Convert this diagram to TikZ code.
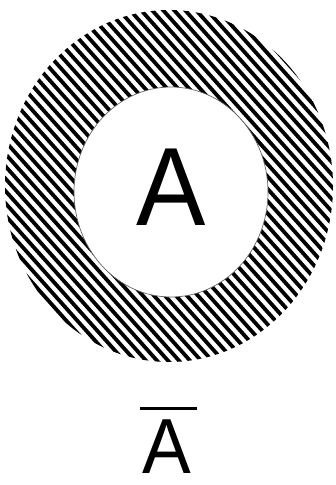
\documentclass[tikz,border=0pt]{standalone}
\usepackage{fontspec}
\setmainfont{Liberation Sans}
\begin{document}
\begin{tikzpicture}[x=1pt,y=-1pt,
  hatch/.style={line width=3.8pt,black},
  rim/.style={line width=0.7pt,black!60},
  letter/.style={inner sep=0pt,outer sep=0pt,text=black},
  barline/.style={line width=3pt,black}]
\useasboundingbox (0,0) rectangle (335,485);
% hatched ring
\begin{scope}[even odd rule]
  \clip (169,186) ellipse [x radius=164, y radius=176]
        (171,192) ellipse [x radius=97, y radius=105];
  \foreach \c in {-352,-341,...,352}{
    \draw[hatch] (\c-20,-22.4) -- (\c+460,515.2);
  }
\end{scope}
\draw[rim] (171,192) ellipse [x radius=97, y radius=105];
% labels
\node[letter] (A) at (171,187) {\fontsize{104pt}{110pt}\selectfont\scalebox{1}[1.07]{A}};
\node[letter] (Abar) at (166.5,447) {\fontsize{73pt}{78pt}\selectfont\scalebox{1}[1.07]{A}};
\draw[barline] ([xshift=-26.5pt,yshift=12pt]Abar.north) -- ([xshift=30.5pt,yshift=12pt]Abar.north);
\end{tikzpicture}
\end{document}
